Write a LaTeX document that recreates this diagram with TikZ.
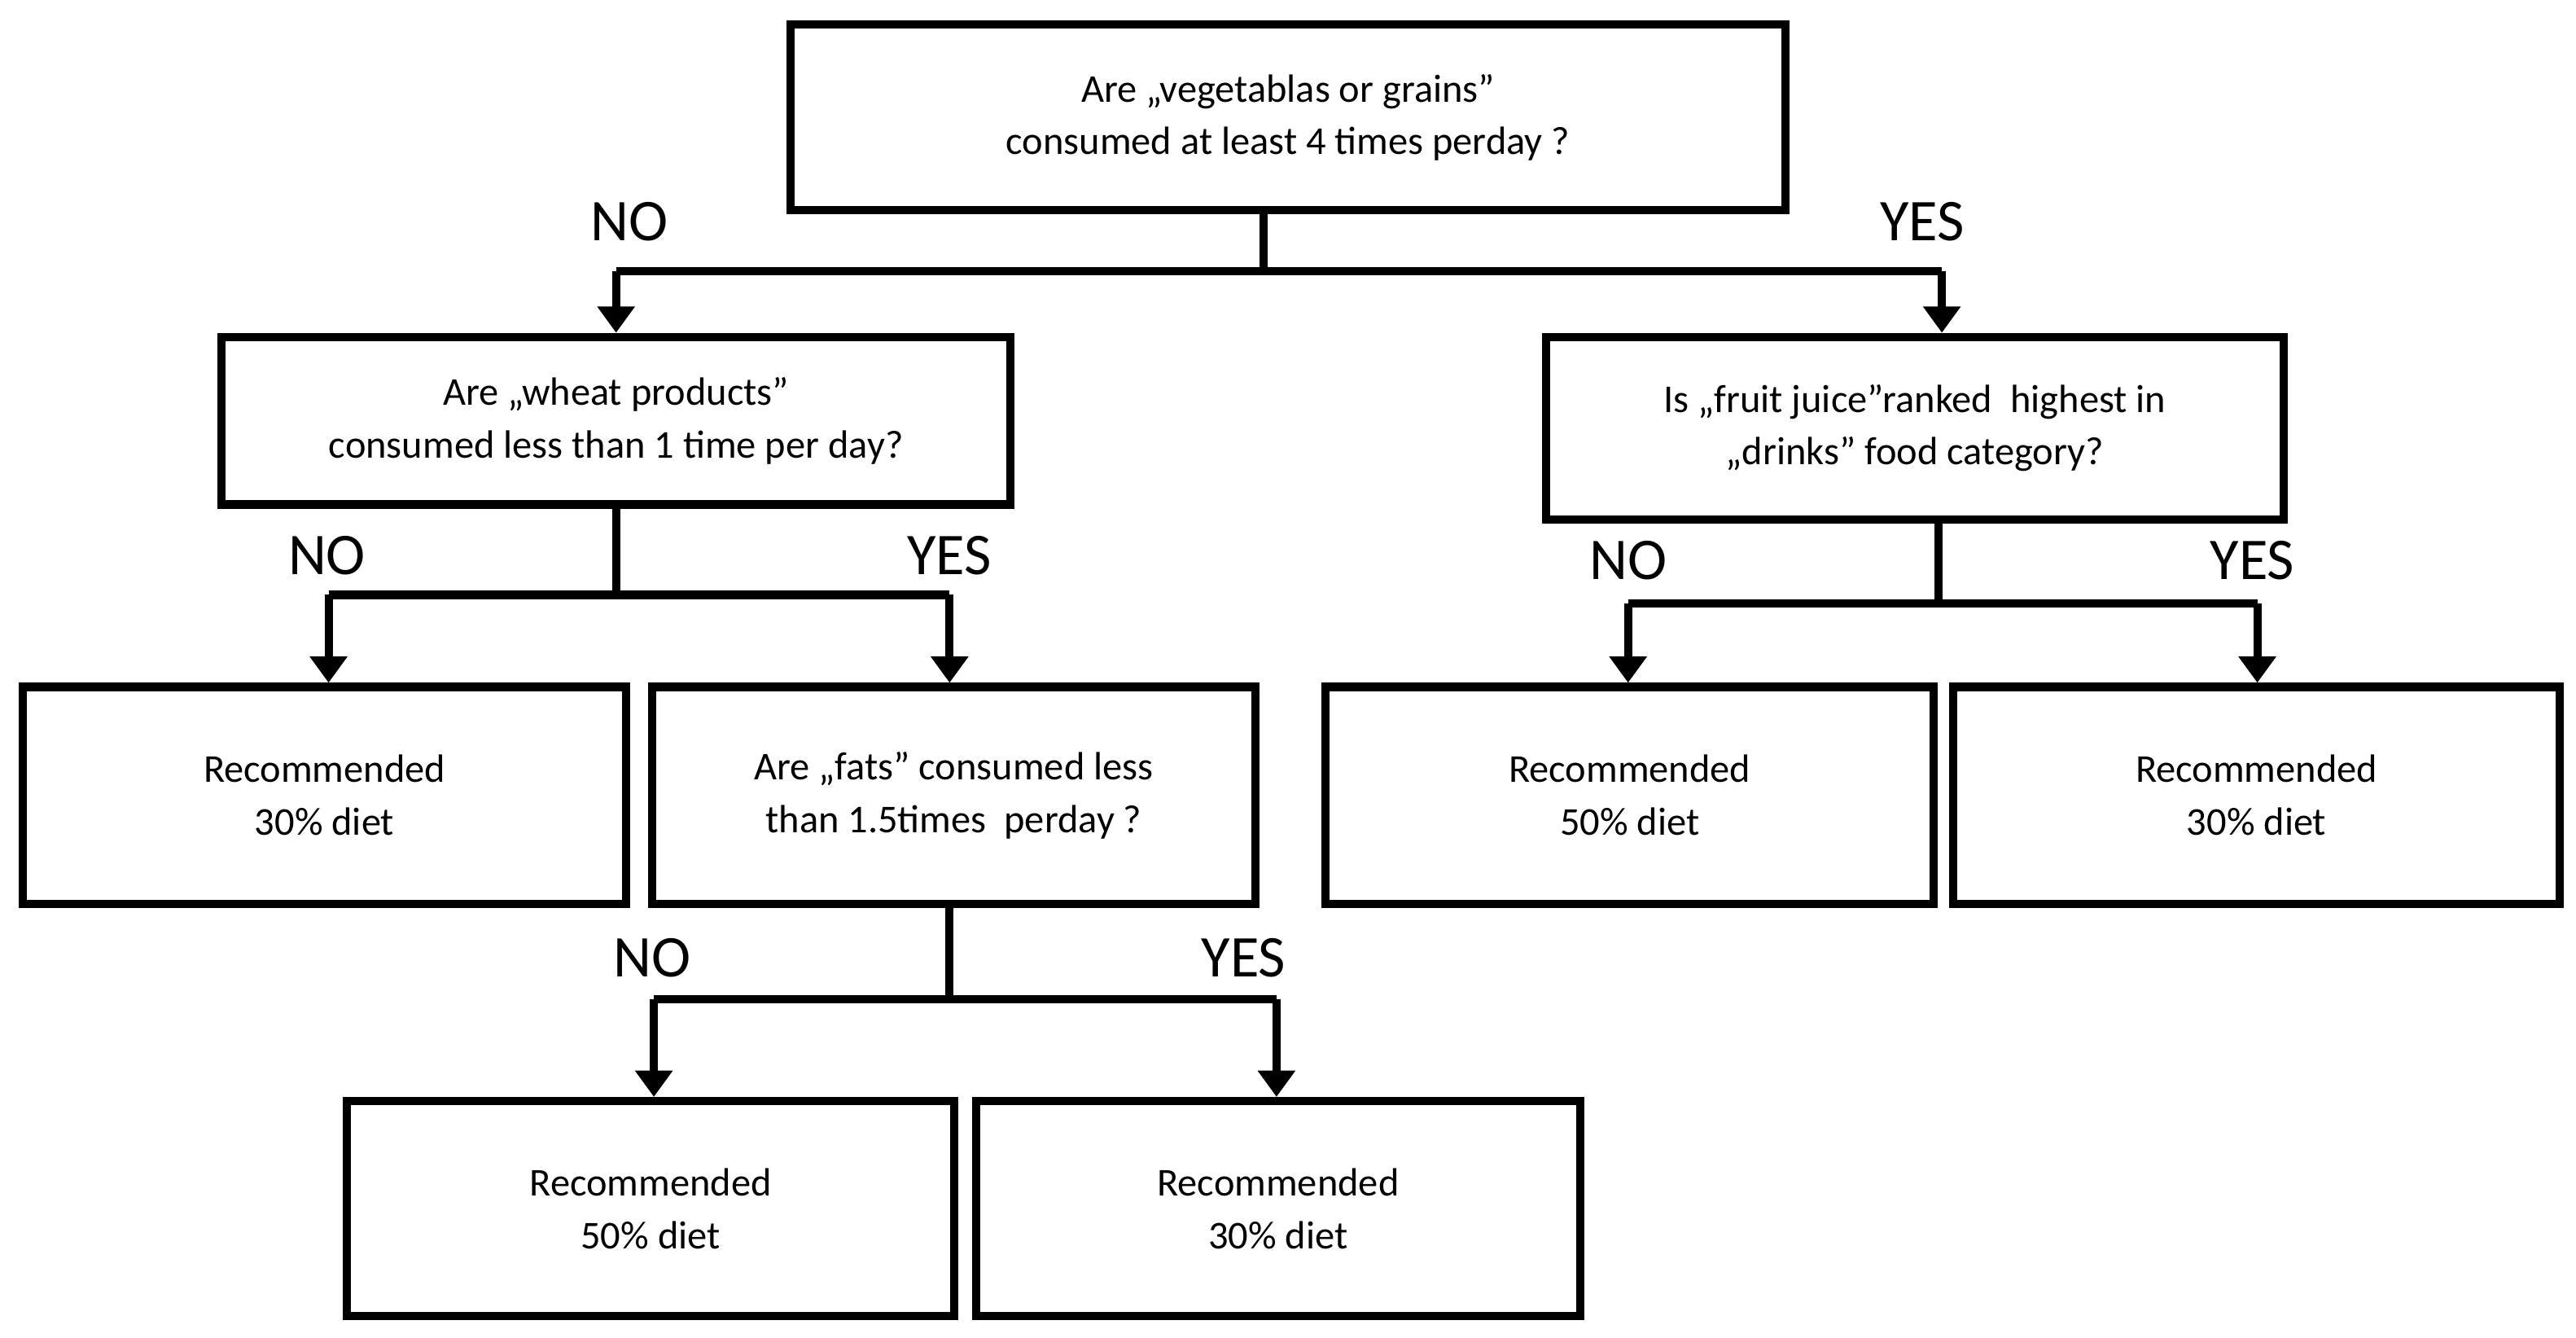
\documentclass[tikz,border=0pt]{standalone}
\usepackage{fontspec}
\setmainfont{Carlito}
\usetikzlibrary{arrows.meta}
\begin{document}
\begin{tikzpicture}[x=1pt,y=-1pt,
  box/.style={draw,line width=5pt,inner sep=0pt,align=center,font=\fontsize{24}{32}\selectfont},
  lab/.style={font=\fontsize{36}{40}\selectfont},
  conn/.style={line width=5pt},
  arr/.style={line width=5pt,-{Triangle[length=16pt,width=22pt]}}]
\useasboundingbox (0,0) rectangle (1568,814);
\newcommand\bx[6]{\node[box,minimum width={#4-#2},minimum height={#5-#3}] (#1) at ({(#2+#4)/2},{(#3+#5)/2}) {#6};}
\bx{top}{481}{15}{1087}{128}{Are „vegetablas or grains”\\consumed at least 4 times perday ?}
\bx{lq}{135}{205}{615}{307}{Are „wheat products”\\consumed less than 1 time per day?}
\bx{rq}{941}{205}{1390}{316}{Is „fruit juice”ranked\ \ highest in\\„drinks” food category?}
\bx{r1}{14}{418}{381}{550}{Recommended\\30\% diet}
\bx{fq}{397}{418}{764}{550}{Are „fats” consumed less\\than 1.5times\ \ perday ?}
\bx{r2}{807}{418}{1177}{550}{Recommended\\50\% diet}
\bx{r3}{1189}{418}{1558}{550}{Recommended\\30\% diet}
\bx{r4}{211}{670}{581}{801}{Recommended\\50\% diet}
\bx{r5}{594}{670}{962}{801}{Recommended\\30\% diet}
% top split
\coordinate (t0) at (769,165);
\draw[conn] (top.south -| t0) -- (t0);
\draw[arr] (375,165) -- (lq.north -| 375,0);
\draw[arr] (1182,165) -- (rq.north -| 1182,0);
\draw[conn] (375,165) -- (1182,165);
\node[lab] at (383,135) {NO}; \node[lab] at (1170,135) {YES};
% left split
\draw[conn] (lq.south -| 375,0) -- (375,362);
\draw[conn] (200,362) -- (578,362);
\draw[arr] (200,362) -- (r1.north -| 200,0);
\draw[arr] (578,362) -- (fq.north -| 578,0);
\node[lab] at (199,338) {NO}; \node[lab] at (578,338) {YES};
% right split
\draw[conn] (rq.south -| 1180,0) -- (1180,367);
\draw[conn] (991,367) -- (1374,367);
\draw[arr] (991,367) -- (r2.north -| 991,0);
\draw[arr] (1374,367) -- (r3.north -| 1374,0);
\node[lab] at (991,341) {NO}; \node[lab] at (1371,341) {YES};
% fats split
\draw[conn] (fq.south -| 578,0) -- (578,608);
\draw[conn] (398,608) -- (777,608);
\draw[arr] (398,608) -- (r4.north -| 398,0);
\draw[arr] (777,608) -- (r5.north -| 777,0);
\node[lab] at (397,583) {NO}; \node[lab] at (757,583) {YES};
\end{tikzpicture}
\end{document}
